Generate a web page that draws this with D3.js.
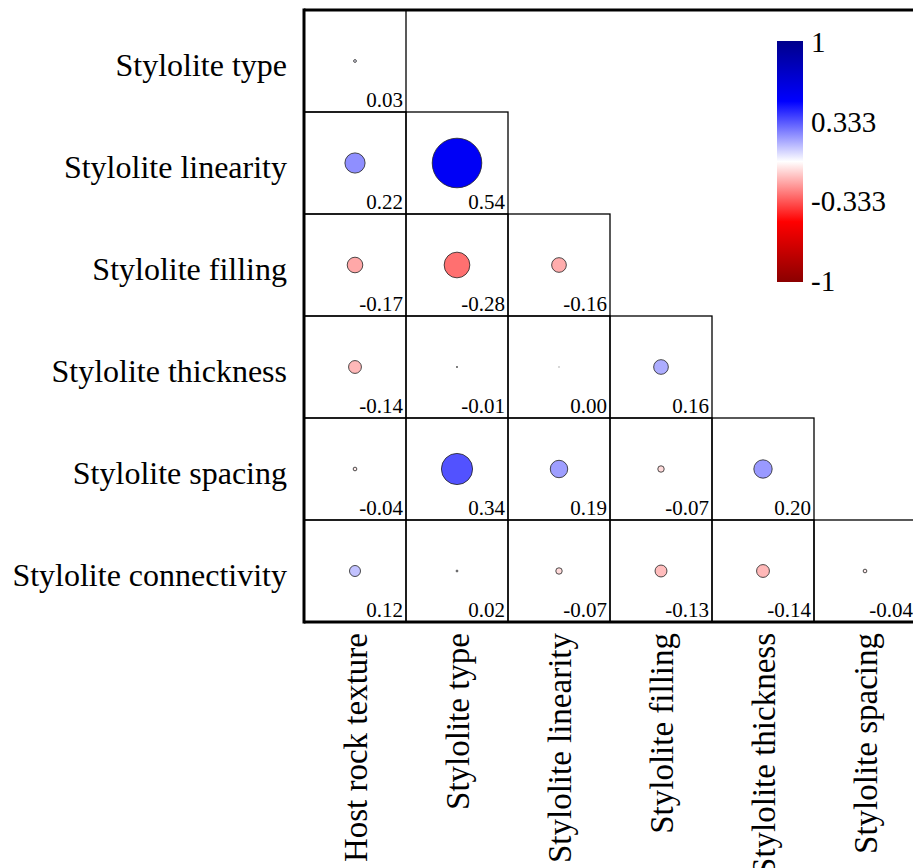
<!DOCTYPE html>
<html><head><meta charset="utf-8">
<script src="https://cdn.jsdelivr.net/npm/d3@7"></script>
<style>body{margin:0;background:#fff}svg{display:block}text{font-family:"Liberation Serif","Times New Roman",serif;fill:#000}</style>
</head><body>
<svg id="chart" width="913" height="868"></svg>
<script>
const rowVars = ["Stylolite type","Stylolite linearity","Stylolite filling","Stylolite thickness","Stylolite spacing","Stylolite connectivity"];
const colVars = ["Host rock texture","Stylolite type","Stylolite linearity","Stylolite filling","Stylolite thickness","Stylolite spacing"];
const corrRows = [
  [0.03],
  [0.22, 0.54],
  [-0.17, -0.28, -0.16],
  [-0.14, -0.01, 0.00, 0.16],
  [-0.04, 0.34, 0.19, -0.07, 0.20],
  [0.12, 0.02, -0.07, -0.13, -0.14, -0.04]
];
const legendTicks = [1, 0.333, -0.333, -1];
const legendTickLabels = ["1","0.333","-0.333","-1"];

const svg = d3.select("#chart");
const plotLeft = 304, plotTop = 10, cell = 102;
const x = d3.scaleBand().domain(colVars).range([plotLeft, plotLeft + cell*colVars.length]);
const y = d3.scaleBand().domain(rowVars).range([plotTop, plotTop + cell*rowVars.length]);
const color = d3.scaleLinear().domain([-1,-0.5,0,0.5,1]).range(["#8B0000","#FF0000","#FFFFFF","#0000FF","#00008B"]);
const rScale = d3.scaleLinear().domain([0,1]).range([0, cell/2*0.9]);

const cells = [];
corrRows.forEach((row,i)=>row.forEach((v,j)=>cells.push({r:rowVars[i], c:colVars[j], v})));

const g = svg.append("g");
g.selectAll("rect.cell").data(cells).join("rect")
  .attr("x", d=>x(d.c)).attr("y", d=>y(d.r))
  .attr("width", x.bandwidth()).attr("height", y.bandwidth())
  .attr("fill","none").attr("stroke","#000").attr("stroke-width",1.3);

g.selectAll("circle").data(cells).join("circle")
  .attr("cx", d=>x(d.c)+x.bandwidth()/2)
  .attr("cy", d=>y(d.r)+y.bandwidth()/2)
  .attr("r", d=>Math.max(0.6, rScale(Math.abs(d.v))))
  .attr("fill", d=>color(d.v))
  .attr("stroke", d=>Math.abs(d.v)<0.005 ? "#bbb" : "#222").attr("stroke-width",0.8);

g.selectAll("text.val").data(cells).join("text")
  .attr("class","val")
  .attr("x", d=>x(d.c)+x.bandwidth()-3)
  .attr("y", d=>y(d.r)+y.bandwidth()-5)
  .attr("text-anchor","end").attr("font-size",21)
  .text(d=>d.v.toFixed(2));

// frame
const fr = svg.append("g").attr("stroke","#000").attr("stroke-width",3);
fr.append("line").attr("x1",plotLeft).attr("x2",plotLeft).attr("y1",plotTop-1.5).attr("y2",plotTop+cell*6+1.5);
fr.append("line").attr("x1",plotLeft).attr("x2",930).attr("y1",plotTop).attr("y2",plotTop);
fr.append("line").attr("x1",plotLeft).attr("x2",930).attr("y1",plotTop+cell*6).attr("y2",plotTop+cell*6);

// row labels
svg.selectAll("text.row").data(rowVars).join("text")
  .attr("class","row")
  .attr("x",287).attr("y",d=>y(d)+y.bandwidth()/2+15)
  .attr("text-anchor","end").attr("font-size",32).text(d=>d);

// column labels
svg.selectAll("text.col").data(colVars).join("text")
  .attr("class","col")
  .attr("transform",d=>`translate(${x(d)+x.bandwidth()/2+1},633) rotate(-90)`)
  .attr("text-anchor","end").attr("dominant-baseline","central").attr("font-size",33).text(d=>d);

// legend
const lx = 777, lw = 26, ly0 = 41, ly1 = 282;
const defs = svg.append("defs");
const grad = defs.append("linearGradient").attr("id","cbar").attr("x1",0).attr("x2",0).attr("y1",0).attr("y2",1);
d3.range(0,1.0001,0.05).forEach(t=>{
  grad.append("stop").attr("offset",t).attr("stop-color",color(1-2*t));
});
svg.append("rect").attr("x",lx).attr("y",ly0).attr("width",lw).attr("height",ly1-ly0).attr("fill","url(#cbar)");
const ly = d3.scaleLinear().domain([1,-1]).range([ly0+1, ly1-1]);
svg.selectAll("text.leg").data(legendTicks).join("text")
  .attr("class","leg")
  .attr("x",lx+lw+8).attr("y",d=>ly(d)).attr("dominant-baseline","central")
  .attr("font-size",29).text((d,i)=>legendTickLabels[i]);
</script>
</body></html>
